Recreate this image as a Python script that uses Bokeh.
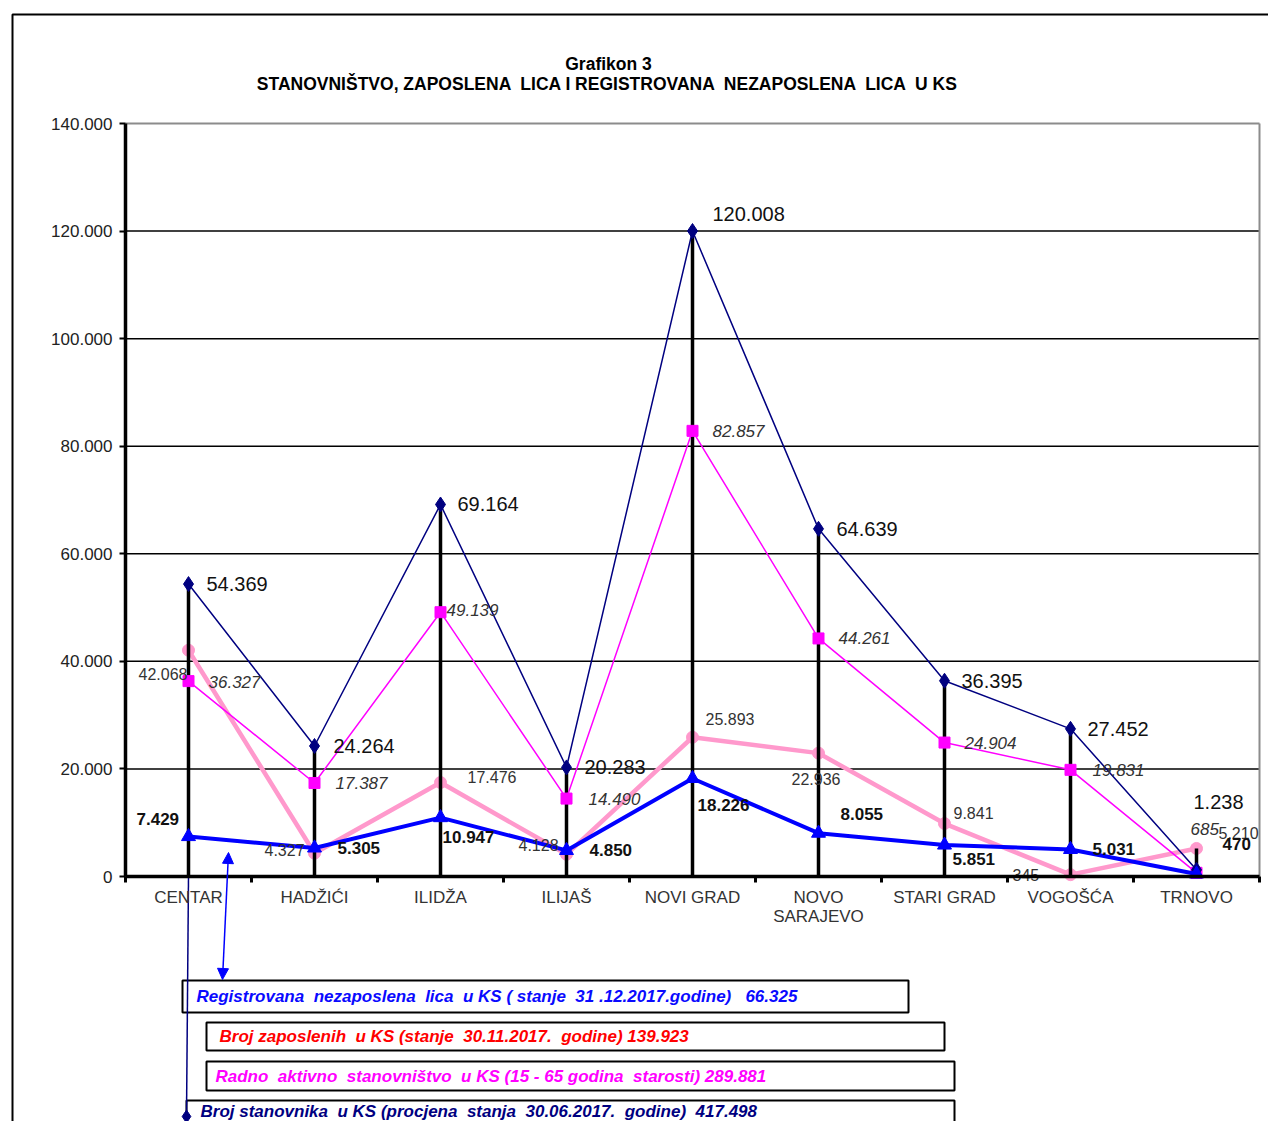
from bokeh.plotting import figure
from bokeh.models import FixedTicker, Range1d, Arrow, NormalHead
from bokeh.core.properties import value
from bokeh.embed import file_html
from bokeh.resources import INLINE

# ---------------- data ----------------
categories = ["CENTAR", "HADŽIĆI", "ILIDŽA", "ILIJAŠ", "NOVI GRAD",
              "NOVO\nSARAJEVO", "STARI GRAD", "VOGOŠĆA", "TRNOVO"]
stanovnika = [54369, 24264, 69164, 20283, 120008, 64639, 36395, 27452, 1238]
radno_aktivno = [36327, 17387, 49139, 14490, 82857, 44261, 24904, 19831, 685]
zaposleni = [42068, 4327, 17476, 4128, 25893, 22936, 9841, 345, 5210]
nezaposleni = [7429, 5305, 10947, 4850, 18226, 8055, 5851, 5031, 470]
y_ticks = [0, 20000, 40000, 60000, 80000, 100000, 120000, 140000]
y_tick_labels = ["0", "20.000", "40.000", "60.000", "80.000",
                 "100.000", "120.000", "140.000"]
NB = "\u00a0"
title_lines = ["Grafikon 3",
               f"STANOVNIŠTVO, ZAPOSLENA {NB}LICA I REGISTROVANA {NB}NEZAPOSLENA {NB}LICA {NB}U KS"]
legend_texts = [
    f"Registrovana {NB}nezaposlena {NB}lica {NB}u KS ( stanje {NB}31 .12.2017.godine) {NB}{NB}66.325",
    f"Broj zaposlenih {NB}u KS (stanje {NB}30.11.2017. {NB}godine) 139.923",
    f"Radno {NB}aktivno {NB}stanovništvo {NB}u KS (15 - 65 godina {NB}starosti) 289.881",
    f"Broj stanovnika {NB}u KS (procjena {NB}stanja {NB}30.06.2017. {NB}godine) {NB}417.498",
]

# ---------------- layout helpers (reference pixels -> data) ----------------
W, H = 1268, 1121
PX0, PX_STEP = 125, 126
PY0, PY_SCALE = 876, 753 / 140000


def X(px):
    return (px - PX0) / PX_STEP


def Y(py):
    return (PY0 - py) / PY_SCALE


def fmt(v):
    return f"{v:,}".replace(",", ".")


xs = [i + 0.5 for i in range(len(categories))]

p = figure(width=W, height=H, title=None,
           x_range=Range1d(X(0), X(W)), y_range=Range1d(Y(H), Y(0)),
           output_backend="svg", toolbar_location=None, min_border=0,
           outline_line_color=None, background_fill_color="white",
           border_fill_color="white")
p.xgrid.visible = False
p.ygrid.visible = False

FONT = value("Liberation Sans")

# outer frame
p.quad(left=[X(12)], right=[X(1300)], top=[Y(14)], bottom=[Y(1160)],
       fill_color=None, line_color="black", line_width=2)

# title
p.text(x=[X(608), X(608)], y=[Y(63), Y(83)], text=title_lines,
       text_font=FONT, text_font_style="bold", text_font_size="17.5px",
       text_align="center", text_baseline="middle", text_color="black")

# gridlines
inner = y_ticks[1:-1]
p.segment(x0=[0] * len(inner), x1=[9] * len(inner), y0=inner, y1=inner,
          line_color="black", line_width=1.5)
p.segment(x0=[0], x1=[9], y0=[y_ticks[-1]], y1=[y_ticks[-1]],
          line_color="#8c8c8c", line_width=2)
p.segment(x0=[9], x1=[9], y0=[0], y1=[y_ticks[-1]],
          line_color="#8c8c8c", line_width=2)

# pink series (employed) drawn beneath drop lines
p.line(xs, zaposleni, line_color="#ff99cc", line_width=4.5)
p.scatter(xs, zaposleni, marker="circle", size=12, fill_color="#ff99cc",
          line_color="#ff99cc")

# drop lines
tops = [max(a, b, c, d) for a, b, c, d in
        zip(stanovnika, radno_aktivno, zaposleni, nezaposleni)]
p.segment(x0=xs, x1=xs, y0=[0] * len(xs), y1=tops, line_color="black",
          line_width=3.5)

# magenta series
p.line(xs, radno_aktivno, line_color="#ff00ff", line_width=1.5)
p.scatter(xs, radno_aktivno, marker="square", size=11, fill_color="#ff00ff",
          line_color="#ff00ff")

# navy series
p.line(xs, stanovnika, line_color="#000080", line_width=1.5)
p.scatter(xs, stanovnika, marker="diamond", size=15, fill_color="#000080",
          line_color="#000080")

# blue series
p.line(xs, nezaposleni, line_color="#0000ff", line_width=4)
p.scatter(xs, nezaposleni, marker="triangle", size=14, fill_color="#0000ff",
          line_color="#0000ff")

# data labels (offsets in screen pixels)
nav_dx = [18, 19, 17, 18, 20, 18, 17, 17, -3]
nav_dy = [0, 0, 0, 0, -17, 0, 0, 0, -68]
mag_dx = [20, 21, 6, 22, 20, 20, 20, 22, -6]
mag_dy = [1, 0, -2, 0, 0, 0, 0, 0, -44]
pink_dx = [-50, -50, 27, -48, 13, -27, 9, -58, 22]
pink_dy = [24, -3, -6, -9, -18, 26, -11, 0, -15]
blue_dx = [-52, 23, 2, 23, 5, 22, 8, 22, 26]
blue_dy = [-18, 0, 19, 0, 27, -19, 14, 0, -30]

p.text(xs, zaposleni, text=[fmt(v) for v in zaposleni], x_offset=pink_dx,
       y_offset=pink_dy, text_font=FONT, text_font_size="16px",
       text_color="#333333", text_baseline="middle", text_align="left")
p.text(xs, stanovnika, text=[fmt(v) for v in stanovnika], x_offset=nav_dx,
       y_offset=nav_dy, text_font=FONT, text_font_size="20px",
       text_color="#111111", text_baseline="middle", text_align="left")
p.text(xs, radno_aktivno, text=[fmt(v) for v in radno_aktivno], x_offset=mag_dx,
       y_offset=mag_dy, text_font=FONT, text_font_style="italic",
       text_font_size="17px", text_color="#333333", text_baseline="middle",
       text_align="left")
p.text(xs, nezaposleni, text=[fmt(v) for v in nezaposleni], x_offset=blue_dx,
       y_offset=blue_dy, text_font=FONT, text_font_style="bold",
       text_font_size="17px", text_color="#111111", text_baseline="middle",
       text_align="left")

# axes
p.yaxis.fixed_location = 0
p.yaxis.bounds = (0, y_ticks[-1])
p.yaxis.ticker = FixedTicker(ticks=y_ticks, minor_ticks=[])
p.yaxis.major_label_overrides = dict(zip(y_ticks, y_tick_labels))
p.yaxis.axis_line_width = 3.5
p.yaxis.axis_line_color = "black"
p.yaxis.major_tick_out = 6
p.yaxis.major_tick_in = 0
p.yaxis.major_tick_line_width = 2
p.yaxis.minor_tick_out = 0
p.yaxis.major_label_standoff = 7
p.yaxis.major_label_text_font = "Liberation Sans"
p.yaxis.major_label_text_font_size = "17px"
p.yaxis.major_label_text_color = "#222222"

p.xaxis.fixed_location = 0
p.xaxis.bounds = (0, 9)
p.xaxis.ticker = FixedTicker(ticks=xs, minor_ticks=list(range(10)))
p.xaxis.major_label_overrides = dict(zip(xs, categories))
p.xaxis.axis_line_width = 3.5
p.xaxis.axis_line_color = "black"
p.xaxis.major_tick_out = 0
p.xaxis.major_tick_in = 0
p.xaxis.minor_tick_out = 6
p.xaxis.minor_tick_in = 0
p.xaxis.minor_tick_line_width = 3
p.xaxis.minor_tick_line_color = "black"
p.xaxis.major_label_standoff = 5
p.xaxis.major_label_text_font = "Liberation Sans"
p.xaxis.major_label_text_font_size = "17px"
p.xaxis.major_label_text_line_height = 1.0
p.xaxis.major_label_text_color = "#333333"

# legend boxes
box_left = [X(182), X(206), X(206), X(186)]
box_right = [X(908), X(944), X(954), X(954)]
box_top = [Y(980), Y(1022), Y(1061), Y(1100)]
box_bottom = [Y(1012), Y(1050), Y(1090), Y(1150)]
p.quad(left=box_left, right=box_right, top=box_top, bottom=box_bottom,
       fill_color="white", line_color="black", line_width=2)
legend_colors = ["#0a0aff", "#ff0000", "#ff00ff", "#000080"]
p.text(x=[X(196), X(219), X(215), X(200)],
       y=[Y(996), Y(1036), Y(1076), Y(1111)], text=legend_texts,
       text_color=legend_colors, text_font=FONT, text_font_style="bold italic",
       text_font_size="17px", text_baseline="middle", text_align="left")

# callout lines
p.segment(x0=[X(188)], x1=[X(186)], y0=[0], y1=[Y(1116)],
          line_color="#000080", line_width=1.5)
p.scatter([X(186)], [Y(1116)], marker="diamond", size=13,
          fill_color="#000080", line_color="#000080")
p.add_layout(Arrow(x_start=X(222), y_start=Y(979), x_end=X(228), y_end=Y(852),
                   line_color="#0000ff", line_width=1.5,
                   start=NormalHead(size=11, fill_color="#0000ff",
                                    line_color="#0000ff"),
                   end=NormalHead(size=11, fill_color="#0000ff",
                                  line_color="#0000ff")))

open("out.html", "w").write(file_html(p, INLINE))
